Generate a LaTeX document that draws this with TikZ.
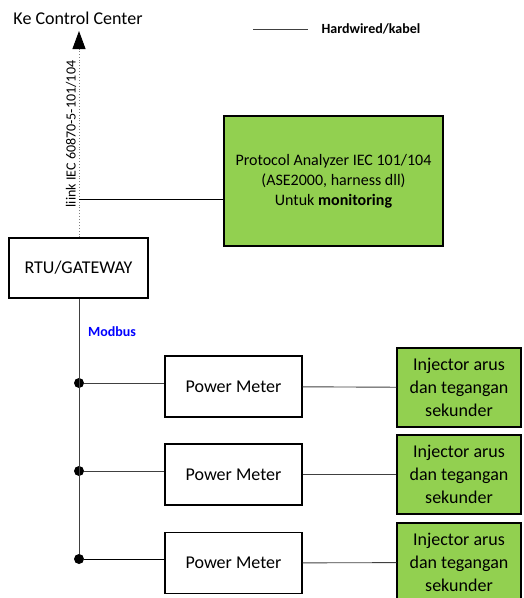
\documentclass[tikz,border=0pt]{standalone}
\usepackage{fontspec}
\setmainfont{Carlito}
\usetikzlibrary{arrows.meta}
\definecolor{hijau}{HTML}{92D050}
\definecolor{garis}{HTML}{404040}

\begin{document}
\begin{tikzpicture}[x=1pt,y=-1pt,
        kotak/.style={draw=black, line width=1.3pt, align=center, inner sep=2pt},
        kotakhijau/.style={kotak, fill=hijau},
        kabel/.style={draw=garis, line width=0.9pt},
        titik/.style={fill=black, circle, inner sep=0pt, minimum size=10pt}]
        \useasboundingbox (0,0) rectangle (523,598);

        % Judul dan legenda
        \node[font=\fontsize{18}{22}\selectfont] (cc) at (78,18) {Ke Control Center};
        \coordinate (lg1) at (253,29);
        \coordinate (lg2) at (308,29);
        \draw[kabel] (lg1) -- (lg2);
        \node[anchor=west, font=\fontsize{14}{16}\selectfont\bfseries] (lgtxt) at (318,29) {Hardwired/kabel};

        % Kotak utama
        \node[kotak, minimum width=139pt, minimum height=60pt, font=\fontsize{18}{22}\selectfont] (rtu) at (78.5,268) {RTU/GATEWAY};
        \node[kotakhijau, minimum width=219pt, minimum height=130pt, font=\fontsize{16}{20}\selectfont] (pa) at (333.5,181)
            {Protocol Analyzer IEC 101/104\\(ASE2000, harness dll)\\Untuk \textbf{monitoring}};

        % Power meter
        \node[kotak, minimum width=137pt, minimum height=61pt, font=\fontsize{18}{22}\selectfont] (pm1) at (233.5,386.5) {Power Meter};
        \node[kotak, minimum width=137pt, minimum height=61pt, font=\fontsize{18}{22}\selectfont] (pm2) at (233.5,474.5) {Power Meter};
        \node[kotak, minimum width=137pt, minimum height=61pt, font=\fontsize{18}{22}\selectfont] (pm3) at (233.5,563) {Power Meter};

        % Injector
        \node[kotakhijau, minimum width=124pt, minimum height=79pt, font=\fontsize{18}{23}\selectfont] (inj1) at (459,387.5) {Injector arus\\dan tegangan\\sekunder};
        \node[kotakhijau, minimum width=124pt, minimum height=79pt, font=\fontsize{18}{23}\selectfont] (inj2) at (459,474.5) {Injector arus\\dan tegangan\\sekunder};
        \node[kotakhijau, minimum width=124pt, minimum height=79pt, font=\fontsize{18}{23}\selectfont] (inj3) at (459,562.5) {Injector arus\\dan tegangan\\sekunder};

        % Link ke control center
        \coordinate (atas) at (79,31);
        \coordinate (tap) at (79,199);
        \draw[gray, dotted, line width=0.9pt, -{Triangle[width=13pt,length=18pt,color=black]}] (rtu.north -| atas) -- (atas);
        \draw[kabel, black] (tap) -- (tap -| pa.west);
        \node[rotate=90, font=\fontsize{14}{16}\selectfont] (iec) at (71,134) {liink IEC 60870-5-101/104};

        % Modbus
        \node[titik] (d1) at (79,383) {};
        \node[titik] (d2) at (79,471) {};
        \node[titik] (d3) at (79,559) {};
        \draw[kabel] (rtu.south -| d1) -- (d3);
        \node[blue, font=\fontsize{14}{16}\selectfont\bfseries] (mb) at (112,332) {Modbus};

        \draw[kabel] (d1) -- (d1 -| pm1.west);
        \draw[kabel] (d2) -- (d2 -| pm2.west);
        \draw[kabel, black] (d3) -- (d3 -| pm3.west);
        \draw[kabel] (pm1) -- (inj1);
        \draw[kabel] (pm2) -- (inj2);
        \draw[kabel] (pm3) -- (inj3);
    \end{tikzpicture}
\end{document}
